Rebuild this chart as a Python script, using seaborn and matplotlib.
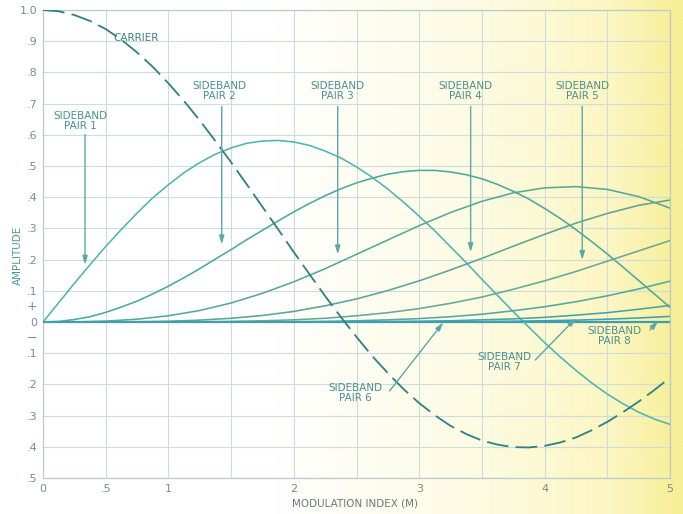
import numpy as np
import pandas as pd
import matplotlib
matplotlib.use("Agg")
import matplotlib.pyplot as plt
import seaborn as sns
from matplotlib.colors import LinearSegmentedColormap

# ---- data (modulation index M, amplitude) ----
m_fine = [0, 0.125, 0.25, 0.375, 0.5, 0.625, 0.75, 0.875, 1.0, 1.125, 1.25,
          1.375, 1.5, 1.625, 1.75, 1.875, 2.0, 2.125, 2.25, 2.375, 2.5, 2.625,
          2.75, 2.875, 3.0, 3.125, 3.25, 3.375, 3.5, 3.625, 3.75, 3.875, 4.0,
          4.125, 4.25, 4.375, 4.5, 4.625, 4.75, 4.875, 5.0]
m_coarse = [0, 0.25, 0.5, 0.75, 1.0, 1.25, 1.5, 1.75, 2.0, 2.25, 2.5, 2.75,
            3.0, 3.25, 3.5, 3.75, 4.0, 4.25, 4.5, 4.75, 5.0]

carrier = [1.0, 0.996, 0.984, 0.965, 0.939, 0.905, 0.864, 0.818, 0.765, 0.708,
           0.646, 0.580, 0.512, 0.441, 0.369, 0.297, 0.224, 0.153, 0.083,
           0.016, -0.048, -0.109, -0.164, -0.215, -0.260, -0.299, -0.333,
           -0.359, -0.380, -0.393, -0.401, -0.402, -0.397, -0.386, -0.370,
           -0.347, -0.320, -0.289, -0.255, -0.218, -0.178]
pair1 = [0, 0.062, 0.124, 0.184, 0.242, 0.297, 0.349, 0.398, 0.440, 0.479,
         0.511, 0.538, 0.558, 0.573, 0.580, 0.582, 0.577, 0.566, 0.548, 0.526,
         0.497, 0.464, 0.426, 0.384, 0.339, 0.292, 0.241, 0.190, 0.137, 0.085,
         0.033, -0.017, -0.066, -0.112, -0.155, -0.195, -0.231, -0.262,
         -0.289, -0.311, -0.328]
pair2 = [0, 0.002, 0.008, 0.017, 0.031, 0.048, 0.067, 0.090, 0.115, 0.142,
         0.171, 0.202, 0.232, 0.264, 0.294, 0.324, 0.353, 0.380, 0.405, 0.427,
         0.446, 0.461, 0.474, 0.482, 0.486, 0.486, 0.481, 0.472, 0.459, 0.441,
         0.419, 0.394, 0.364, 0.332, 0.296, 0.258, 0.218, 0.176, 0.133, 0.090,
         0.047]
pair3 = [0, 0.0003, 0.003, 0.009, 0.020, 0.037, 0.061, 0.092, 0.129, 0.171,
         0.217, 0.263, 0.309, 0.351, 0.387, 0.414, 0.430, 0.434, 0.425,
         0.402, 0.365]
pair4 = [0, 0.0, 0.0002, 0.001, 0.0025, 0.006, 0.012, 0.021, 0.034, 0.052,
         0.074, 0.101, 0.132, 0.167, 0.204, 0.243, 0.281, 0.317, 0.348,
         0.374, 0.391]
pair5 = [0, 0.0, 0.0, 0.0001, 0.0002, 0.0007, 0.002, 0.004, 0.007, 0.012,
         0.020, 0.030, 0.043, 0.060, 0.080, 0.105, 0.132, 0.162, 0.195,
         0.228, 0.261]
pair6 = [0, 0.0, 0.0, 0.0, 0.0, 0.0001, 0.0002, 0.0005, 0.001, 0.002, 0.004,
         0.007, 0.011, 0.017, 0.025, 0.036, 0.049, 0.065, 0.084, 0.106, 0.131]
pair7 = [0, 0.0, 0.0, 0.0, 0.0, 0.0, 0.0, 0.0001, 0.0002, 0.0004, 0.0007,
         0.0014, 0.0025, 0.004, 0.007, 0.010, 0.015, 0.022, 0.030, 0.041, 0.053]
pair8 = [0, 0.0, 0.0, 0.0, 0.0, 0.0, 0.0, 0.0, 0.0, 0.0, 0.0001, 0.0002,
         0.0005, 0.0009, 0.0015, 0.0025, 0.004, 0.006, 0.009, 0.013, 0.018]

x_ticks = [0, 0.5, 1, 2, 3, 4, 5]
x_ticklabels = ["0", ".5", "1", "2", "3", "4", "5"]
y_ticks = [-0.5, -0.4, -0.3, -0.2, -0.1, 0, 0.1, 0.2, 0.3, 0.4, 0.5, 0.6,
           0.7, 0.8, 0.9, 1.0]
y_ticklabels = [".5", ".4", ".3", ".2", ".1", "0", ".1", ".2", ".3", ".4",
                ".5", ".6", ".7", ".8", ".9", "1.0"]

series = [("carrier", m_fine, carrier), ("1", m_fine, pair1),
          ("2", m_fine, pair2), ("3", m_coarse, pair3),
          ("4", m_coarse, pair4), ("5", m_coarse, pair5),
          ("6", m_coarse, pair6), ("7", m_coarse, pair7),
          ("8", m_coarse, pair8)]
df = pd.concat([pd.DataFrame({"M": xs, "amp": ys, "curve": k})
                for k, xs, ys in series], ignore_index=True)

sns.set_style("white")
plt.rcParams['font.family'] = ['DejaVu Sans']

fig = plt.figure(figsize=(6.83, 5.14), dpi=100)

# background paper gradient (white -> pale yellow at right)
bg = fig.add_axes([0, 0, 1, 1], zorder=-10)
cmap = LinearSegmentedColormap.from_list(
    "paper", [(0.0, "#ffffff"), (0.4, "#ffffff"), (0.7, "#fdfbe2"),
              (0.9, "#fcf6c2"), (1.0, "#f7ee95")])
grad = np.tile(np.linspace(0, 1, 400), (50, 1))
bg.imshow(grad, aspect="auto", cmap=cmap, extent=[0, 1, 0, 1])
bg.axis("off")

ax = fig.add_axes([0.063, 0.070, 0.918, 0.9105])
ax.set_facecolor("none")

colors = {"carrier": "#2f7f86", "1": "#4fb5ae", "2": "#4aaa9f", "3": "#57a89a",
          "4": "#5ca596", "5": "#66a898", "6": "#52a8a2", "7": "#45a4aa",
          "8": "#3c9fb2"}

for key, _, _ in series:
    sub = df[df["curve"] == key]
    if key == "carrier":
        sns.lineplot(data=sub, x="M", y="amp", ax=ax, color=colors[key],
                     lw=1.3, zorder=4)
        ax.lines[-1].set_dashes((12, 4))
    else:
        sns.lineplot(data=sub, x="M", y="amp", ax=ax, color=colors[key],
                     lw=1.15, zorder=3)

ax.axhline(0, color="#3a9fb0", lw=1.6, zorder=2)

ax.set_xlim(0, 5)
ax.set_ylim(-0.5, 1.0)
ax.set_xticks(np.arange(0, 5.01, 0.5), minor=True)
ax.set_xticks(x_ticks)
ax.set_xticklabels(x_ticklabels)
ax.set_yticks(y_ticks)
ax.set_yticklabels(y_ticklabels)
ax.tick_params(axis="both", which="both", length=0, labelsize=8,
               labelcolor="#7d8b8b", pad=4)
ax.grid(True, which="both", color="#cfdcdc", lw=0.8, zorder=0)
ax.set_axisbelow(True)
for s in ax.spines.values():
    s.set_color("#b9cccc")
    s.set_linewidth(0.9)
ax.set_xlabel("")
ax.set_ylabel("")

tick_col = "#7d8b8b"
ax.text(-0.045, 0.05, "+", transform=ax.transData, ha="right", va="center",
        fontsize=9, color=tick_col)
ax.text(-0.045, -0.052, "\u2212", transform=ax.transData, ha="right",
        va="center", fontsize=9, color=tick_col)

fig.text(18 / 683, 1 - 255 / 514, "AMPLITUDE", rotation=90, ha="center",
         va="center", fontsize=7.5, color="#4a9a9a")
fig.text(355 / 683, 1 - 503 / 514, "MODULATION INDEX (M)", ha="center",
         va="center", fontsize=7.5, color="#6b7b7b")

txt_col = "#4a9090"
arr_col = "#5aa8a8"
ax.text(0.56, 0.91, "CARRIER", fontsize=7.5, color="#3f7f86", ha="left",
        va="center")

labels_top = [(0.30, 0.645, 0.335, 0.61, 0.175, "SIDEBAND\nPAIR 1"),
              (1.41, 0.74, 1.425, 0.70, 0.24, "SIDEBAND\nPAIR 2"),
              (2.35, 0.74, 2.35, 0.70, 0.208, "SIDEBAND\nPAIR 3"),
              (3.37, 0.74, 3.41, 0.70, 0.215, "SIDEBAND\nPAIR 4"),
              (4.30, 0.74, 4.30, 0.70, 0.19, "SIDEBAND\nPAIR 5")]
for tx, ty, axx, y0, y1, lab in labels_top:
    ax.text(tx, ty, lab, fontsize=7.5, color=txt_col, ha="center",
            va="center", linespacing=1.05, zorder=6)
    ax.annotate("", xy=(axx, y1), xytext=(axx, y0),
                arrowprops=dict(arrowstyle="-|>,head_length=0.5,head_width=0.15",
                                color=arr_col, lw=1.0), zorder=5)

labels_bot = [(2.49, -0.228, 2.75, -0.228, 3.206, 0.006, "SIDEBAND\nPAIR 6"),
              (3.68, -0.128, 3.91, -0.128, 4.266, 0.019, "SIDEBAND\nPAIR 7"),
              (4.56, -0.045, 4.825, -0.032, 4.92, 0.01, "SIDEBAND\nPAIR 8")]
for tx, ty, x0, y0, x1, y1, lab in labels_bot:
    ax.text(tx, ty, lab, fontsize=7.5, color=txt_col, ha="center",
            va="center", linespacing=1.05, zorder=6)
    ax.annotate("", xy=(x1, y1), xytext=(x0, y0),
                arrowprops=dict(arrowstyle="-|>,head_length=0.5,head_width=0.15",
                                color=arr_col, lw=1.0), zorder=5)

fig.savefig("out.png", dpi=100)
